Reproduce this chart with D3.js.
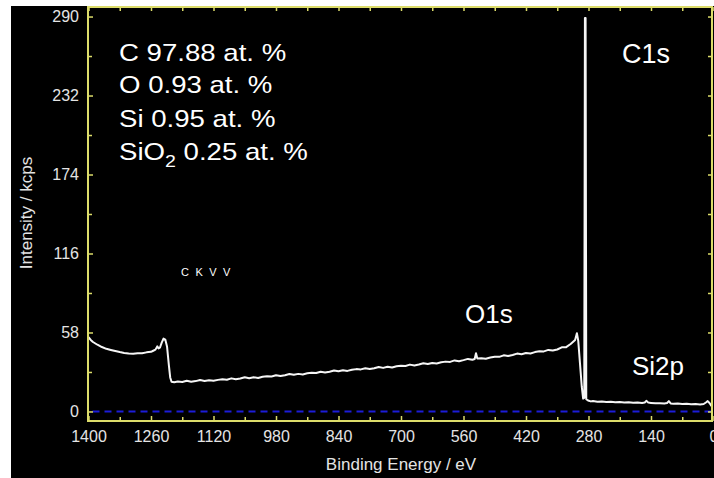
<!DOCTYPE html>
<html><head><meta charset="utf-8">
<script src="https://cdnjs.cloudflare.com/ajax/libs/d3/7.8.5/d3.min.js"></script>
<style>
html,body{margin:0;padding:0;background:#fff;overflow:hidden;}
svg{display:block;font-family:"Liberation Sans",Arial,sans-serif;}
</style></head><body>
<svg id="chart" width="714" height="478"></svg>
<script>
// ---- data ----
const energy = [
  1400,1395,1390,1380,1370,1360,1350,1340,1330,1320,1310,1300,1290,1280,1270,1260,1255,1250,1246,1243,1240,1236,1232,1228,1224,1220,1217,1214,1208,
  1200,1190,1180,1170,1160,1150,1140,1130,1120,1110,
  1100,1090,1080,1070,1060,1050,1040,1030,1020,1010,
  1000,990,980,970,960,950,940,930,920,910,
  900,890,880,870,860,850,840,830,820,810,
  800,790,780,770,760,750,740,730,720,710,
  700,690,680,670,660,650,640,630,620,610,
  600,590,580,570,560,550,540,535,532,529,520,510,
  500,490,480,470,460,450,440,430,420,410,
  400,390,380,370,360,350,340,330,320,315,310,306,303,299,295,292,289.5,288,286.5,285,
  281,275,270,260,250,240,230,220,210,200,190,180,170,160,154,150,146,140,130,120,110,104,100,96,90,80,70,60,50,40,30,22,17,13,9,5,0
];
const intensity = [
  54.5,52.5,51.0,49.0,47.3,46.0,45.2,44.4,43.6,43.0,42.6,42.4,42.8,42.7,43.4,43.8,44.6,45.4,47.8,46.3,46.8,50.5,53.5,52.8,47.5,34.0,25.0,21.8,21.4,
  22.0,21.7,22.5,21.8,22.3,23.1,22.4,23.0,22.5,23.2,
  23.6,23.3,24.3,23.6,24.2,25.1,24.4,25.1,24.6,25.5,
  25.9,25.7,26.6,26.0,26.6,27.5,26.9,27.6,27.2,28.0,
  28.5,28.3,29.2,28.6,29.2,30.1,29.5,30.2,29.8,30.6,
  31.1,30.9,31.8,31.2,31.8,32.7,32.0,32.8,32.3,33.2,
  33.6,33.4,34.4,33.8,34.5,35.4,34.8,35.6,35.2,36.1,
  36.6,36.4,37.5,36.9,37.7,38.6,38.0,38.5,42.8,38.9,39.1,38.7,
  39.6,40.2,40.1,41.2,40.7,41.5,42.5,42.0,42.9,42.6,
  43.6,44.2,44.1,45.2,44.7,45.5,47.1,47.2,49.5,51.0,52.5,57.4,52.0,35.0,18.0,9.5,10.0,289,289,9.0,
  8.0,7.4,7.7,7.2,7.4,7.0,7.1,6.7,6.9,6.6,6.7,6.4,6.6,6.3,6.6,7.8,6.5,6.3,6.0,6.1,5.8,6.2,7.6,5.9,5.7,5.8,5.5,5.6,5.3,5.4,5.2,5.5,6.6,7.6,6.2,4.2,3.0
];
const xTicks = [1400,1260,1120,980,840,700,560,420,280,140,0];
const xMinorTicks = [1330,1190,1050,910,770,630,490,350,210,70];
const yTicks = [0,58,116,174,232,290];
const yMinorTicks = [29,87,145,203,261];
const compElements = ["C","O","Si","SiO"];
const compValues = ["97.88","0.93","0.95","0.25"];
const peakNames = ["C1s","O1s","Si2p","CKVV"];
const xTitle = "Binding Energy / eV";
const yTitle = "Intensity / kcps";

// ---- layout ----
const svg = d3.select("#chart");
const L = 88, R = 712, T = 7, B = 421;
const yellow = "#dcdc6a";
const labelColor = "#e4e4e4";

svg.append("rect").attr("x",11).attr("y",6).attr("width",703).attr("height",472).attr("fill","#000");

const x = d3.scaleLinear().domain([1400,0]).range([88.5,713.5]);
const y = d3.scaleLinear().domain([-7,297]).range([B,T]);

svg.append("defs").append("clipPath").attr("id","plotclip")
  .append("rect").attr("x",L).attr("y",T).attr("width",R-L).attr("height",B-T);

// zero dashed line
svg.append("line")
  .attr("x1",x(1400)+4).attr("x2",x(0)).attr("y1",y(0)).attr("y2",y(0))
  .attr("stroke","#1c1cd8").attr("stroke-width",2).attr("stroke-dasharray","7,5")
  .attr("clip-path","url(#plotclip)");

// spectrum
const pts = energy.map((e,i)=>[e,intensity[i]]);
svg.append("path").datum(pts)
  .attr("d", d3.line().x(d=>x(d[0])).y(d=>y(d[1])))
  .attr("fill","none").attr("stroke","#f6f6f6").attr("stroke-width",2)
  .attr("stroke-linejoin","round")
  .attr("clip-path","url(#plotclip)");

// axes
function styleAxis(g){
  g.select(".domain").remove();
  g.selectAll(".tick line").attr("stroke",yellow).attr("stroke-width",1.5);
  g.selectAll(".tick text").attr("fill",labelColor).attr("font-size",16)
    .attr("font-family","'Liberation Sans',Arial,sans-serif");
}
svg.append("g").attr("transform",`translate(${L},0)`)
  .call(d3.axisLeft(y).tickValues(yTicks).tickSize(-5).tickPadding(9).tickFormat(d3.format("d")))
  .call(styleAxis);
svg.append("g").attr("transform",`translate(${L},0)`)
  .call(d3.axisLeft(y).tickValues(yMinorTicks).tickSize(-4).tickFormat(""))
  .call(styleAxis);
svg.append("g").attr("transform",`translate(${R},0)`)
  .call(d3.axisRight(y).tickValues(yTicks.concat(yMinorTicks)).tickSize(-4).tickFormat(""))
  .call(styleAxis);
svg.append("g").attr("transform",`translate(0,${B})`)
  .call(d3.axisBottom(x).tickValues(xTicks).tickSize(-5).tickPadding(10).tickFormat(d3.format("d")))
  .call(styleAxis);
svg.append("g").attr("transform",`translate(0,${B})`)
  .call(d3.axisBottom(x).tickValues(xMinorTicks).tickSize(-4).tickFormat(""))
  .call(styleAxis);
svg.append("g").attr("transform",`translate(0,${T})`)
  .call(d3.axisTop(x).tickValues(xTicks.concat(xMinorTicks)).tickSize(-4).tickFormat(""))
  .call(styleAxis);

// frame
svg.append("rect").attr("x",L).attr("y",T).attr("width",R-L).attr("height",B-T)
  .attr("fill","none").attr("stroke",yellow).attr("stroke-width",2);

// axis titles
svg.append("text").attr("x",401).attr("y",470).attr("text-anchor","middle")
  .attr("fill",labelColor).attr("font-size",17).text(xTitle);
svg.append("text").attr("transform","translate(32,213) rotate(-90)").attr("text-anchor","middle")
  .attr("fill",labelColor).attr("font-size",17).text(yTitle);

// composition block
const comp = svg.append("g").attr("transform","translate(119,0) scale(1.15,1)");
const baselines = [61,93,127,160];
compElements.forEach((el,i)=>{
  const t = comp.append("text").attr("x",0).attr("y",baselines[i])
    .attr("fill","#fff").attr("font-size",24);
  if(i===3){
    t.append("tspan").text(el);
    t.append("tspan").attr("font-size",17).attr("dy",7).text("2");
    t.append("tspan").attr("dy",-7).text(" " + compValues[i] + " at. %");
  } else {
    t.text(el + " " + compValues[i] + " at. %");
  }
});

// peak labels
svg.append("text").attr("x",622).attr("y",63).attr("fill","#fff").attr("font-size",27).text(peakNames[0]);
svg.append("text").attr("x",465).attr("y",323).attr("fill","#fff").attr("font-size",26).text(peakNames[1]);
svg.append("text").attr("x",632).attr("y",375).attr("fill","#fff").attr("font-size",26).text(peakNames[2]);
svg.append("text").attr("x",181).attr("y",276).attr("fill","#fff").attr("font-size",11)
  .attr("letter-spacing",6.5).text(peakNames[3]);
</script>
</body></html>
